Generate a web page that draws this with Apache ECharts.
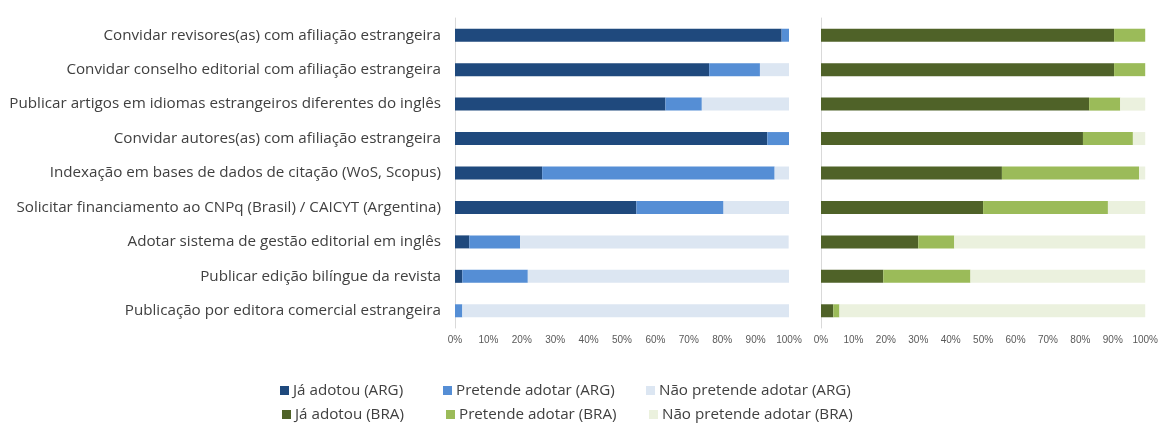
<!DOCTYPE html>
<html>
<head>
<meta charset="utf-8">
<title>Internacionalização</title>
<script src="https://cdn.jsdelivr.net/npm/echarts@6/dist/echarts.min.js"></script>
<style>
  html, body { margin: 0; padding: 0; background: #fff; }
  #chart { width: 1161px; height: 429px; }
</style>
</head>
<body>
<div id="chart"></div>
<script>
  const categories = [
    'Convidar revisores(as) com afiliação estrangeira',
    'Convidar conselho editorial com afiliação estrangeira',
    'Publicar artigos em idiomas estrangeiros diferentes do inglês',
    'Convidar autores(as) com afiliação estrangeira',
    'Indexação em bases de dados de citação (WoS, Scopus)',
    'Solicitar financiamento ao CNPq (Brasil) / CAICYT (Argentina)',
    'Adotar sistema de gestão editorial em inglês',
    'Publicar edição bilíngue da revista',
    'Publicação por editora comercial estrangeira'
  ];

  // Argentina (%)
  const argJa = [97.8, 76.1, 63.0, 93.5, 26.1, 54.3, 4.3, 2.2, 0];
  const argPretende = [2.2, 15.2, 10.9, 6.5, 69.6, 26.1, 15.2, 19.6, 2.2];
  const argNao = [0, 8.7, 26.1, 0, 4.3, 19.6, 80.4, 78.3, 97.8];

  // Brasil (%)
  const braJa = [90.4, 90.4, 82.7, 80.8, 55.8, 50.0, 30.0, 19.2, 3.8];
  const braPretende = [9.6, 9.6, 9.6, 15.4, 42.3, 38.5, 11.1, 26.9, 1.9];
  const braNao = [0, 0, 7.7, 3.8, 1.9, 11.5, 58.9, 53.9, 94.3];

  const tickLabels = ['0%', '10%', '20%', '30%', '40%', '50%', '60%', '70%', '80%', '90%', '100%'];

  const colors = {
    argJa: '#1f497d', argPretende: '#558ed5', argNao: '#dce6f2',
    braJa: '#4f6228', braPretende: '#9bbb59', braNao: '#ebf1de'
  };

  const myChart = echarts.init(document.getElementById('chart'));

  function xAxisFor(gridIndex) {
    return {
      gridIndex: gridIndex,
      type: 'value',
      min: 0,
      max: 100,
      interval: 10,
      splitLine: { show: false },
      axisLine: { show: false },
      axisTick: { show: false },
      axisLabel: {
        margin: 7,
        color: '#595959',
        fontSize: 10,
        fontFamily: 'Liberation Sans',
        formatter: (v) => tickLabels[Math.round(v / 10)]
      }
    };
  }

  function yAxisFor(gridIndex, showLabels) {
    return {
      gridIndex: gridIndex,
      type: 'category',
      inverse: true,
      data: categories,
      axisLine: { show: true, lineStyle: { color: '#d9d9d9', width: 1 } },
      axisTick: { show: false },
      axisLabel: {
        show: showLabels,
        margin: 14,
        color: '#404040',
        fontSize: 15.2,
        fontFamily: 'Open Sans'
      }
    };
  }

  function bar(name, data, color, axisIndex, stack) {
    return {
      name: name,
      type: 'bar',
      stack: stack,
      xAxisIndex: axisIndex,
      yAxisIndex: axisIndex,
      barWidth: 13,
      itemStyle: { color: color },
      emphasis: { disabled: true },
      data: data
    };
  }

  function legendItem(name, left, top) {
    return {
      data: [name],
      left: left,
      top: top,
      padding: 0,
      itemWidth: 9,
      itemHeight: 9,
      itemGap: 0,
      icon: 'rect',
      textStyle: { color: '#404040', fontSize: 15.2, fontFamily: 'Open Sans', padding: [0, 0, 0, -1] }
    };
  }

  let option = {
    animation: false,
    grid: [
      { left: 455, right: 372, top: 18, bottom: 101 },
      { left: 821, right: 13, top: 18, bottom: 101 }
    ],
    xAxis: [xAxisFor(0), xAxisFor(1)],
    yAxis: [yAxisFor(0, true), yAxisFor(1, false)],
    legend: [
      legendItem('Já adotou (ARG)', 280, 383),
      legendItem('Pretende adotar (ARG)', 443, 383),
      legendItem('Não pretende adotar (ARG)', 646, 383),
      legendItem('Já adotou (BRA)', 282, 407),
      legendItem('Pretende adotar (BRA)', 446, 407),
      legendItem('Não pretende adotar (BRA)', 649, 407)
    ],
    series: [
      bar('Já adotou (ARG)', argJa, colors.argJa, 0, 'arg'),
      bar('Pretende adotar (ARG)', argPretende, colors.argPretende, 0, 'arg'),
      bar('Não pretende adotar (ARG)', argNao, colors.argNao, 0, 'arg'),
      bar('Já adotou (BRA)', braJa, colors.braJa, 1, 'bra'),
      bar('Pretende adotar (BRA)', braPretende, colors.braPretende, 1, 'bra'),
      bar('Não pretende adotar (BRA)', braNao, colors.braNao, 1, 'bra')
    ]
  };
  myChart.setOption(option);
</script>
</body>
</html>
